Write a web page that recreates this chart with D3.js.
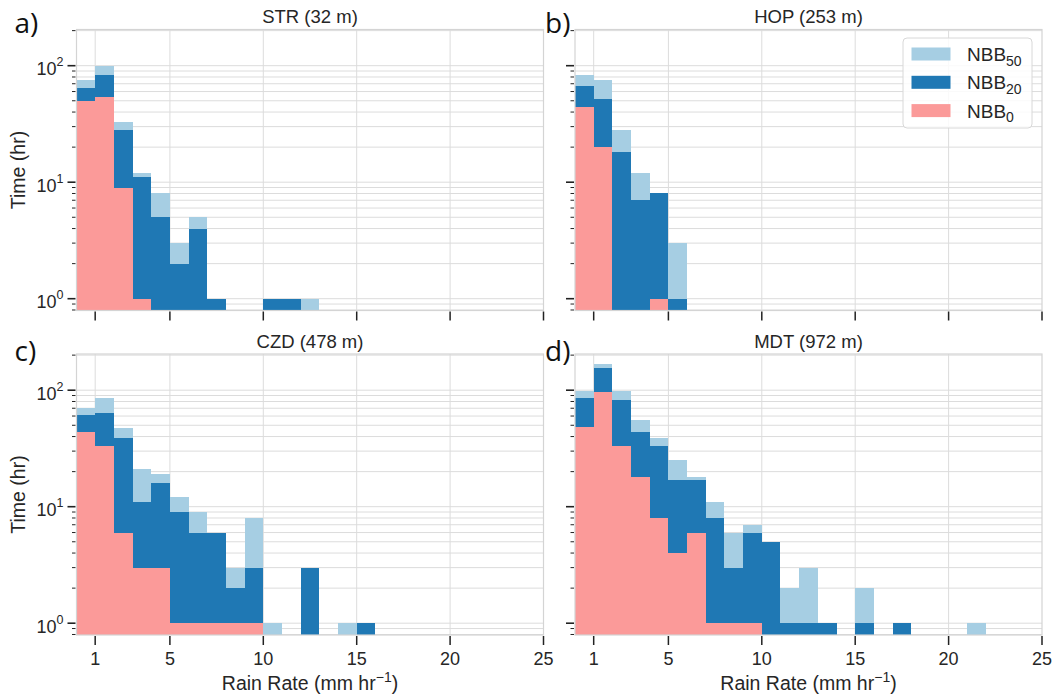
<!DOCTYPE html>
<html>
<head>
<meta charset="utf-8">
<script src="https://cdn.jsdelivr.net/npm/d3@7"></script>
<style>
  html, body { margin: 0; padding: 0; background: #fff; }
  svg { display: block; font-family: "Liberation Sans", Arial, sans-serif; }
</style>
</head>
<body>
<svg id="chart" width="1058" height="695"></svg>
<script>
// Hourly rain-rate histograms (1 mm/hr bins from 0 to 25) for four stations,
// split by bright-band threshold (NBB50, NBB20, NBB0). Counts are hours.
const binEdges = d3.range(0, 26);           // 0,1,...,25
const xTicks = [1, 5, 10, 15, 20, 25];
const yTickLabels = [[1, "0"], [10, "1"], [100, "2"]];
const stations = ["STR (32 m)", "HOP (253 m)", "CZD (478 m)", "MDT (972 m)"];
const panelTags = ["a)", "b)", "c)", "d)"];
const seriesNames = ["50", "20", "0"];
const seriesColors = ["#a6cee3", "#1f78b4", "#fb9a99"];

const strNBB50 = [75, 100, 33, 12, 8, 3, 5, 1, 0, 0, 1, 1, 1];
const strNBB20 = [64, 83, 28, 11, 5, 2, 4, 1, 0, 0, 1, 1, 0];
const strNBB0  = [50, 54, 9, 1, 0, 0, 0, 0];

const hopNBB50 = [84, 75, 28, 12, 8, 3];
const hopNBB20 = [67, 52, 18, 7, 8, 1];
const hopNBB0  = [44, 20, 0, 0, 1, 0];

const czdNBB50 = [71, 85, 47, 21, 19, 12, 9, 6, 3, 8, 1, 0, 3, 0, 1, 1];
const czdNBB20 = [61, 64, 39, 11, 16, 9, 6, 6, 2, 3, 0, 0, 3, 0, 0, 1];
const czdNBB0  = [44, 33, 6, 3, 3, 1, 1, 1, 1, 1];

const mdtNBB50 = [99, 168, 99, 56, 39, 25, 18, 11, 6, 7, 5, 2, 3, 1, 0, 2, 0, 1, 0, 0, 0, 1];
const mdtNBB20 = [85, 154, 82, 44, 33, 17, 17, 8, 3, 6, 5, 1, 1, 1, 0, 1, 0, 1];
const mdtNBB0  = [48, 97, 33, 18, 8, 4, 6, 1, 1, 1];

const panelData = [
  [strNBB50, strNBB20, strNBB0],
  [hopNBB50, hopNBB20, hopNBB0],
  [czdNBB50, czdNBB20, czdNBB0],
  [mdtNBB50, mdtNBB20, mdtNBB0]
];

const svg = d3.select("#chart");
const colX = [76.5, 575];
const rowY = [29.5, 354];
const pw = 467, ph = 281;
const gridColor = "#dcdcdc";
const tickColor = "#222";
const textColor = "#262626";

// minor+major log ticks across the y range
const yDomain = [0.792, 204.5];
const logTicks = [];
[0.1, 1, 10, 100].forEach(dec => {
  for (let m = 1; m <= 9; m++) {
    const v = m * dec;
    if (v >= yDomain[0] && v <= yDomain[1]) logTicks.push(v);
  }
});

panelData.forEach((series, p) => {
  const col = p % 2, row = Math.floor(p / 2);
  const x0 = colX[col], y0 = rowY[row];
  const g = svg.append("g").attr("transform", `translate(${x0},${y0})`);

  const x = d3.scaleLinear().domain([0, 25]).range([0, pw]);
  const y = d3.scaleLog().domain(yDomain).range([ph, 0]);

  // grid
  g.append("g").selectAll("line.h").data(logTicks).join("line")
    .attr("x1", 0).attr("x2", pw)
    .attr("y1", d => y(d)).attr("y2", d => y(d))
    .attr("stroke", gridColor).attr("stroke-width", 1);
  g.append("g").selectAll("line.v").data(xTicks.filter(t => t < 25)).join("line")
    .attr("x1", d => x(d)).attr("x2", d => x(d))
    .attr("y1", 0).attr("y2", ph)
    .attr("stroke", gridColor).attr("stroke-width", 1);

  // bars, overlaid: widest threshold first
  series.forEach((vals, s) => {
    g.append("g").attr("shape-rendering", "crispEdges").selectAll("rect")
      .data(vals.map((v, i) => ({ v, i })).filter(d => d.v > 0))
      .join("rect")
      .attr("x", d => x(binEdges[d.i]))
      .attr("width", d => x(binEdges[d.i + 1]) - x(binEdges[d.i]))
      .attr("y", d => y(d.v))
      .attr("height", d => ph - y(d.v))
      .attr("fill", seriesColors[s]);
  });

  // frame
  g.append("rect").attr("x", 0).attr("y", 0).attr("width", pw).attr("height", ph)
    .attr("fill", "none").attr("stroke", "#d4d4d4").attr("stroke-width", 1.2);

  // x ticks
  g.append("g").selectAll("line").data(xTicks).join("line")
    .attr("x1", d => x(d)).attr("x2", d => x(d))
    .attr("y1", ph + 1).attr("y2", ph + 10)
    .attr("stroke", tickColor).attr("stroke-width", 1.5);
  if (row === 1) {
    g.append("g").selectAll("text").data(xTicks).join("text")
      .attr("x", d => x(d)).attr("y", ph + 29.5)
      .attr("text-anchor", "middle").attr("font-size", 18).attr("fill", textColor)
      .text(d => d);
    const xl = g.append("text").attr("x", pw / 2).attr("y", ph + 55)
      .attr("text-anchor", "middle").attr("font-size", 19.5).attr("fill", textColor);
    xl.append("tspan").text("Rain Rate (mm hr");
    xl.append("tspan").attr("dy", -8).attr("font-size", 14).text("\u22121");
    xl.append("tspan").attr("dy", 8).text(")");
  }

  // y ticks
  const majors = yTickLabels.map(d => d[0]);
  g.append("g").selectAll("line").data(logTicks).join("line")
    .attr("x1", d => majors.includes(d) ? -9 : -4.5).attr("x2", -1)
    .attr("y1", d => y(d)).attr("y2", d => y(d))
    .attr("stroke", tickColor).attr("stroke-width", d => majors.includes(d) ? 1.6 : 1);
  if (col === 0) {
    yTickLabels.forEach(([v, ex]) => {
      const t = g.append("text").attr("x", -13).attr("y", y(v) + 9.5)
        .attr("text-anchor", "end").attr("font-size", 18).attr("fill", textColor);
      t.append("tspan").text("10");
      t.append("tspan").attr("dy", -9).attr("font-size", 12.5).text(ex);
    });
    g.append("text")
      .attr("transform", `translate(${-52},${ph / 2}) rotate(-90)`)
      .attr("text-anchor", "middle").attr("font-size", 19.5).attr("fill", textColor)
      .text("Time (hr)");
  }

  // title and panel tag
  g.append("text").attr("x", pw / 2).attr("y", -6.5)
    .attr("text-anchor", "middle").attr("font-size", 18.5).attr("fill", textColor)
    .text(stations[p]);
  g.append("text").attr("x", col === 0 ? -62 : -30).attr("y", row === 0 ? 3.5 : 7)
    .attr("font-family", "'Open Sans', 'Noto Sans', sans-serif")
    .attr("font-size", 28).attr("fill", "#111")
    .text(panelTags[p]);

  // legend in panel b
  if (p === 1) {
    const lg = g.append("g").attr("transform", `translate(${903 - x0},${38 - y0})`);
    lg.append("rect").attr("width", 129).attr("height", 90).attr("rx", 4)
      .attr("fill", "#fff").attr("fill-opacity", 0.85)
      .attr("stroke", "#d8d8d8").attr("stroke-width", 1);
    seriesNames.forEach((nm, s) => {
      const cy = 16 + s * 28.3;
      lg.append("rect").attr("x", 8.5).attr("y", cy - 6.5).attr("width", 39).attr("height", 13)
        .attr("fill", seriesColors[s]);
      const t = lg.append("text").attr("x", 64).attr("y", cy + 7)
        .attr("font-size", 19).attr("fill", textColor);
      t.append("tspan").text("NBB");
      t.append("tspan").attr("dy", 4.5).attr("font-size", 14).text(nm);
    });
  }
});
</script>
</body>
</html>
